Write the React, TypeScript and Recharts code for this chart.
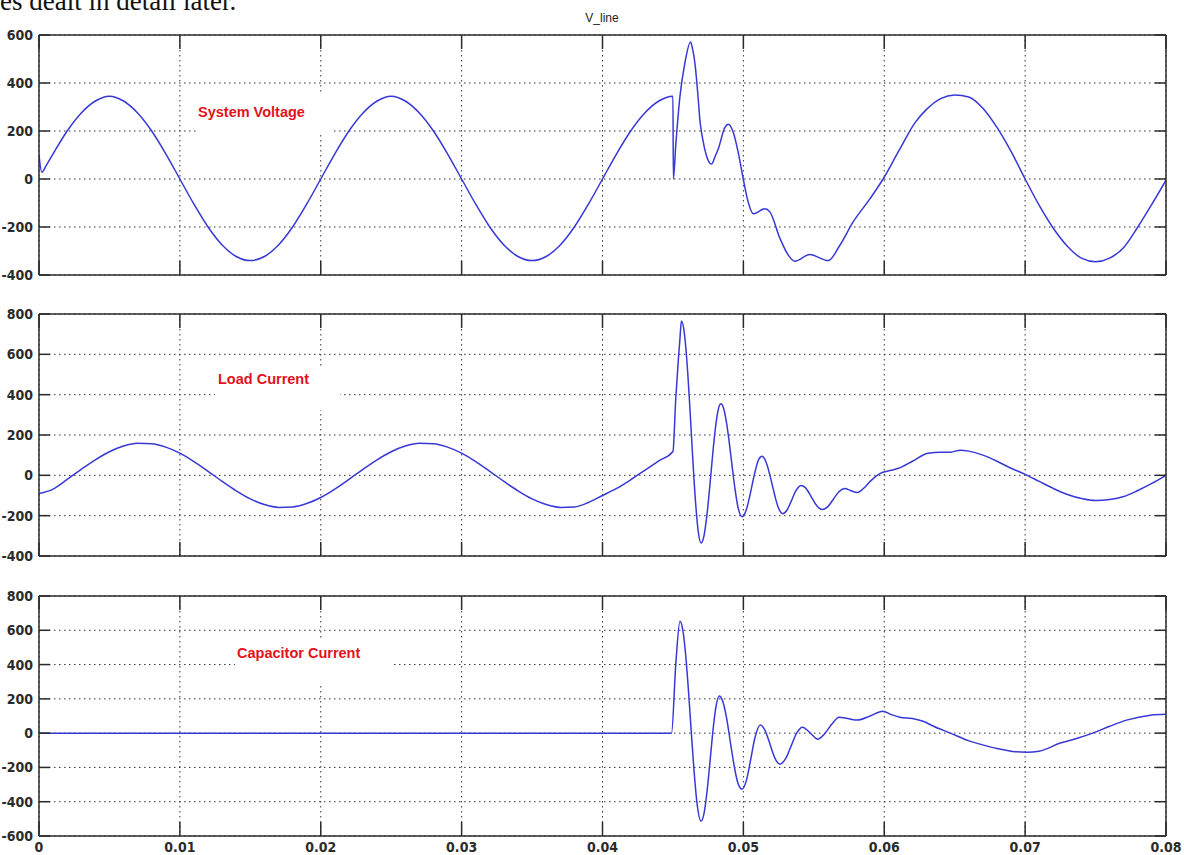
import React from 'react'
import { LineChart, Line, XAxis, YAxis, CartesianGrid } from 'recharts'

// time axis (s)
const timeTicks = [0, 0.01, 0.02, 0.03, 0.04, 0.05, 0.06, 0.07, 0.08]
const voltageTicks = [-400, -200, 0, 200, 400, 600]
const loadTicks = [-400, -200, 0, 200, 400, 600, 800]
const capacitorTicks = [-600, -400, -200, 0, 200, 400, 600, 800]

// [t, value]
const systemVoltage: [number, number][] = [
  [0, 100], [0.0002, 28], [0.0005, 55], [0.001, 105], [0.002, 200], [0.003, 275], [0.004, 325],
  [0.005, 345], [0.006, 325], [0.007, 275], [0.008, 200], [0.009, 105], [0.01, 0],
  [0.011, -105], [0.012, -200], [0.013, -275], [0.014, -323], [0.015, -340], [0.016, -323],
  [0.017, -275], [0.018, -200], [0.019, -105], [0.02, 0], [0.021, 105], [0.022, 200],
  [0.023, 275], [0.024, 325], [0.025, 345], [0.026, 325], [0.027, 275], [0.028, 200],
  [0.029, 105], [0.03, 0], [0.031, -105], [0.032, -200], [0.033, -275], [0.034, -323],
  [0.035, -340], [0.036, -323], [0.037, -275], [0.038, -200], [0.039, -105], [0.04, 0],
  [0.041, 105], [0.042, 200], [0.043, 275], [0.044, 325], [0.045, 345], [0.04503, 0],
  [0.0452, 140], [0.0455, 345], [0.04585, 484], [0.04625, 571], [0.0464, 540], [0.04656, 483],
  [0.0468, 330], [0.04691, 248], [0.0471, 170], [0.04738, 97], [0.04774, 62], [0.048, 95],
  [0.04821, 124], [0.04869, 215], [0.04892, 228], [0.04928, 195], [0.04963, 112], [0.04999, 0],
  [0.05034, -96], [0.0507, -145], [0.05153, -124], [0.05188, -137], [0.0526, -248],
  [0.0532, -318], [0.05365, -343], [0.05472, -315], [0.05602, -340], [0.05685, -276],
  [0.05779, -179], [0.05898, -83], [0.05992, 0], [0.0611, 124], [0.0622, 236], [0.063, 290],
  [0.064, 335], [0.065, 350], [0.066, 342], [0.067, 295], [0.068, 215], [0.069, 115],
  [0.07, 0], [0.071, -110], [0.072, -205], [0.073, -280], [0.074, -330], [0.075, -345],
  [0.076, -330], [0.077, -285], [0.078, -200], [0.079, -105], [0.08, -5],
]

const loadCurrent: [number, number][] = [
  [0, -90], [0.001, -68], [0.002, -20], [0.003, 30], [0.004, 77], [0.005, 117], [0.006, 145],
  [0.007, 159], [0.008, 157], [0.009, 140], [0.01, 110], [0.011, 68], [0.012, 20],
  [0.013, -30], [0.014, -77], [0.015, -117], [0.016, -145], [0.017, -159], [0.018, -157],
  [0.019, -140], [0.02, -110], [0.021, -68], [0.022, -20], [0.023, 30], [0.024, 77],
  [0.025, 117], [0.026, 145], [0.027, 159], [0.028, 157], [0.029, 140], [0.03, 110],
  [0.031, 68], [0.032, 20], [0.033, -30], [0.034, -77], [0.035, -117], [0.036, -145],
  [0.037, -159], [0.038, -157], [0.039, -135], [0.04, -100], [0.041, -65], [0.042, -22],
  [0.043, 25], [0.044, 72], [0.045, 118], [0.0452, 380], [0.0454, 590], [0.0455, 680],
  [0.0456, 765], [0.0458, 710], [0.046, 558], [0.0462, 338], [0.0464, 92], [0.0466, -128],
  [0.0468, -281], [0.047, -335], [0.0472, -301], [0.0474, -205], [0.0476, -67], [0.0478, 87],
  [0.048, 225], [0.0482, 321], [0.0484, 355], [0.0486, 331], [0.0488, 262], [0.049, 162],
  [0.0492, 46], [0.0494, -65], [0.0496, -152], [0.0499, -205], [0.0501, -190], [0.0503, -148],
  [0.0505, -88], [0.0507, -22], [0.0509, 38], [0.0511, 80], [0.0513, 95], [0.0515, 83],
  [0.0517, 48], [0.0519, -4], [0.0521, -62], [0.0523, -119], [0.0525, -163], [0.0528, -190],
  [0.0531, -172], [0.0534, -128], [0.0537, -80], [0.0541, -50], [0.0544, -61], [0.0548, -104],
  [0.0552, -150], [0.0556, -170], [0.056, -155], [0.0564, -117], [0.0568, -80], [0.0572, -65],
  [0.0576, -75], [0.0581, -85], [0.0586, -60], [0.059, -30], [0.0595, 0], [0.0599, 15],
  [0.0605, 25], [0.061, 35], [0.062, 70], [0.0631, 110], [0.064, 115], [0.0647, 115],
  [0.0654, 125], [0.066, 120], [0.067, 100], [0.068, 70], [0.069, 35], [0.07, 5],
  [0.071, -30], [0.072, -65], [0.073, -95], [0.074, -115], [0.075, -125], [0.076, -120],
  [0.077, -105], [0.078, -75], [0.079, -40], [0.08, 0],
]

const capacitorCurrent: [number, number][] = [
  [0, 0], [0.0449, 0], [0.0452, 400], [0.0455, 653], [0.0457, 603], [0.0459, 460],
  [0.0461, 250], [0.0463, 9], [0.0465, -222], [0.0467, -402], [0.047, -513], [0.0472, -471],
  [0.0474, -355], [0.0476, -193], [0.0478, -19], [0.048, 125], [0.0483, 216], [0.0485, 194],
  [0.0488, 92], [0.0491, -65], [0.0494, -215], [0.0496, -288], [0.0499, -327], [0.0502, -280],
  [0.0505, -163], [0.0508, -34], [0.0512, 47], [0.0515, 22], [0.0518, -41], [0.0521, -117],
  [0.0523, -156], [0.0526, -181], [0.053, -149], [0.0534, -73], [0.0538, 3], [0.0542, 35],
  [0.0547, 5], [0.0553, -35], [0.0558, 0], [0.0563, 55], [0.0568, 93], [0.0574, 85],
  [0.0581, 76], [0.059, 100], [0.0599, 128], [0.0605, 108], [0.0611, 93], [0.062, 85],
  [0.0628, 68], [0.0635, 40], [0.0647, 0], [0.066, -45], [0.0668, -64], [0.068, -90],
  [0.069, -105], [0.0701, -111], [0.071, -105], [0.0725, -58], [0.0737, -30], [0.0748, 0],
  [0.076, 40], [0.0772, 76], [0.0789, 105], [0.08, 110],
]

const INK = '#2b2b2b'
const TRACE = '#3838d6'
const RED = '#e3121b'
const tickFont = {
  fontFamily: "'Liberation Sans Narrow', 'DejaVu Sans Condensed', sans-serif",
  fontSize: 14,
  fontWeight: 700,
  fill: INK,
}
const axisStroke = { stroke: INK, strokeWidth: 1.5 }
const blank = () => ''

type PanelProps = {
  data: [number, number][]
  yTicks: number[]
  plotTop: number
  plotBottom: number
  showTime?: boolean
}

// extra room above the plot so the top tick label is not clipped
const HEAD = 12

function Panel({ data, yTicks, plotTop, plotBottom, showTime }: PanelProps) {
  const points = data.map(([t, v]) => ({ t, v }))
  const domain: [number, number] = [yTicks[0], yTicks[yTicks.length - 1]]
  return (
    <div style={{ position: 'absolute', left: 0, top: plotTop - HEAD - 1 }}>
      <LineChart
        width={1184}
        height={plotBottom - plotTop + HEAD + 21}
        data={points}
        margin={{ top: HEAD, right: 17, bottom: 0, left: 5 }}
      >
        <CartesianGrid stroke="#333" strokeDasharray="1.5 3.5" />
        <XAxis
          dataKey="t"
          type="number"
          domain={[0, 0.08]}
          ticks={timeTicks}
          interval={0}
          allowDataOverflow
          height={20}
          tickSize={-14}
          tickMargin={20}
          axisLine={axisStroke}
          tickLine={axisStroke}
          tick={tickFont}
          tickFormatter={showTime ? (v: number) => String(v) : blank}
        />
        <XAxis
          xAxisId="top"
          orientation="top"
          dataKey="t"
          type="number"
          domain={[0, 0.08]}
          ticks={timeTicks}
          interval={0}
          allowDataOverflow
          height={1}
          tickSize={-14}
          axisLine={axisStroke}
          tickLine={axisStroke}
          tickFormatter={blank}
        />
        <YAxis
          type="number"
          domain={domain}
          ticks={yTicks}
          interval={0}
          allowDataOverflow
          width={34}
          tickSize={-11}
          tickMargin={17}
          axisLine={axisStroke}
          tickLine={axisStroke}
          tick={tickFont}
        />
        <YAxis
          yAxisId="right"
          orientation="right"
          type="number"
          domain={domain}
          ticks={yTicks}
          interval={0}
          allowDataOverflow
          width={1}
          tickSize={-11}
          axisLine={axisStroke}
          tickLine={axisStroke}
          tickFormatter={blank}
        />
        <Line
          dataKey="v"
          type="monotone"
          stroke={TRACE}
          strokeWidth={1.5}
          dot={false}
          isAnimationActive={false}
        />
      </LineChart>
    </div>
  )
}

const labelFont = "'Liberation Sans', Arial, sans-serif"

export default function App() {
  return (
    <div
      style={{
        position: 'absolute',
        left: 0,
        top: 0,
        width: 1184,
        height: 855,
        background: '#fff',
        overflow: 'hidden',
      }}
    >
      <Panel data={systemVoltage} yTicks={voltageTicks} plotTop={35} plotBottom={275} />
      <Panel data={loadCurrent} yTicks={loadTicks} plotTop={314} plotBottom={556} />
      <Panel data={capacitorCurrent} yTicks={capacitorTicks} plotTop={596} plotBottom={836} showTime />
      <svg width={1184} height={855} style={{ position: 'absolute', left: 0, top: 0 }}>
        <text x={0} y={10} fontFamily="'Liberation Serif', serif" fontSize={27} fill="#111">
          es dealt in detail later.
        </text>
        <text x={602} y={22} textAnchor="middle" fontFamily={labelFont} fontSize={12} fill="#222">
          V_line
        </text>
        <rect x={198} y={93} width={135} height={42} fill="#fff" />
        <text x={198} y={117} fontFamily={labelFont} fontSize={14.5} fontWeight={700} fill={RED}>
          System Voltage
        </text>
        <rect x={215} y={368} width={125} height={42} fill="#fff" />
        <text x={218} y={384} fontFamily={labelFont} fontSize={14.5} fontWeight={700} fill={RED}>
          Load Current
        </text>
        <rect x={235} y={639} width={157} height={47} fill="#fff" />
        <text x={237} y={658} fontFamily={labelFont} fontSize={14.5} fontWeight={700} fill={RED}>
          Capacitor Current
        </text>
      </svg>
    </div>
  )
}
